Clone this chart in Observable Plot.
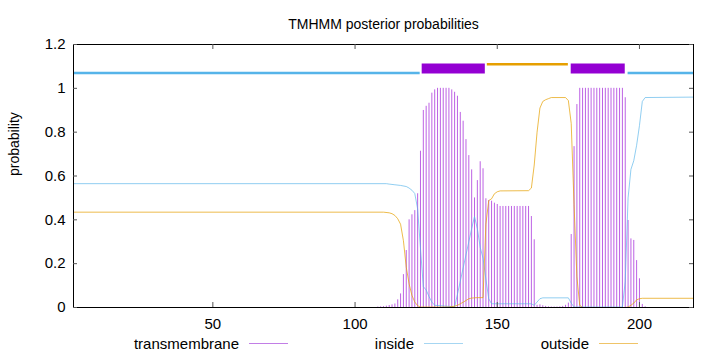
<!DOCTYPE html>
<html>
<head>
<meta charset="utf-8">
<script src="https://cdn.jsdelivr.net/npm/d3@7"></script>
<script src="https://cdn.jsdelivr.net/npm/@observablehq/plot@0.6"></script>
<style>
  html, body { margin: 0; padding: 0; background: #fff; }
  body { font-family: "Liberation Sans", Arial, Helvetica, sans-serif; }
  #wrap { position: relative; width: 720px; height: 352px; overflow: hidden; }
  #legend { position: absolute; left: 0; top: 334px; width: 720px; height: 18px; font-size: 15px; color: #000; }
  .item { position: absolute; top: 0; height: 18px; display: flex; align-items: center; justify-content: flex-end; width: 200px; }
  .item .swatch { display: block; width: 39px; height: 1px; margin-left: 10px; flex: none; }
</style>
</head>
<body>
<div id="wrap"><div id="legend"></div></div>
<script>
// ---- text ----
const title = "TMHMM posterior probabilities";
const yLabel = "probability";
const seriesNames = ["transmembrane", "inside", "outside"];

// ---- axes ----
const seqLength = 219;
const xTicks = [50, 100, 150, 200];
const yTicks = [0, 0.2, 0.4, 0.6, 0.8, 1, 1.2];

// ---- transmembrane posterior (impulses), residues 108..202 ----
const tmFirstResidue = 108;
const tmProb = [
  0.002, 0.003, 0.004, 0.006, 0.009, 0.012, 0.016, 0.035, 0.062, 0.15,
  0.26, 0.40, 0.423, 0.442, 0.519, 0.713, 0.899, 0.918, 0.932, 0.978,
  0.993, 1, 1, 1, 1, 1, 0.993, 0.982, 0.964, 0.89,
  0.85, 0.766, 0.693, 0.628, 0.50, 0.579, 0.665, 0.633, 0.496, 0.488,
  0.485, 0.476, 0.47, 0.461, 0.461, 0.461, 0.461, 0.461, 0.461, 0.461,
  0.461, 0.461, 0.461, 0.461, 0.415, 0.309, 0.01, 0.012, 0.008, 0.005,
  0.003, 0.002, 0.002, 0.002, 0.003, 0.005, 0.01, 0.02, 0.333, 0.734,
  0.926, 1, 1, 1, 1, 1, 1, 1, 1, 1,
  1, 1, 1, 1, 1, 1, 1, 0.957, 0.397, 0.313,
  0.306, 0.214, 0.131, 0.014, 0.003
];

// ---- inside posterior (line) ----
const insideResidue = [1, 111, 112, 114, 116, 118, 119, 120, 121, 122, 123, 124, 125, 126, 127, 128, 135,
  136, 137, 138, 139, 140, 141, 142, 143, 144, 145, 146, 147, 148, 162, 163, 164, 165, 166, 175, 176, 177,
  194, 195, 196, 197, 198, 199, 200, 201, 202, 219];
const insideProb = [0.565, 0.565, 0.563, 0.56, 0.557, 0.552, 0.545, 0.535, 0.52, 0.45, 0.27, 0.095, 0.08, 0.05, 0.025, 0.01, 0.003,
  0.06, 0.12, 0.18, 0.24, 0.30, 0.36, 0.415, 0.36, 0.275, 0.225, 0.13, 0.04, 0.017, 0.017, 0.01, 0.025, 0.04, 0.044, 0.044, 0.02, 0.002,
  0.002, 0.12, 0.50, 0.63, 0.67, 0.74, 0.83, 0.94, 0.958, 0.96];

// ---- outside posterior (line) ----
const outsideResidue = [1, 110, 112, 113, 114, 115, 116, 117, 118, 119, 120, 121, 122, 123, 133, 135, 136, 137, 138,
  139, 140, 141, 142, 143, 144, 145, 146, 147, 148, 149, 150, 151, 161, 162, 163, 164, 165, 166, 167, 168, 169,
  174, 175, 176, 177, 178, 179, 180, 195, 196, 197, 198, 199, 200, 201, 219];
const outsideProb = [0.435, 0.435, 0.432, 0.428, 0.42, 0.405, 0.38, 0.305, 0.184, 0.108, 0.055, 0.025, 0.008, 0.002, 0.002, 0.006, 0.01, 0.017, 0.024,
  0.032, 0.04, 0.043, 0.044, 0.045, 0.045, 0.045, 0.38, 0.488, 0.496, 0.519, 0.528, 0.532, 0.533, 0.545, 0.65, 0.80, 0.91, 0.94, 0.948, 0.953, 0.958,
  0.958, 0.944, 0.84, 0.47, 0.14, 0.01, 0, 0, 0.002, 0.01, 0.02, 0.035, 0.04, 0.042, 0.042];

// ---- predicted topology (bars on top) ----
const segType  = ["inside", "TMhelix", "outside", "TMhelix", "inside"];
const segStart = [1, 123.6, 146.5, 176, 196];
const segEnd   = [122.9, 145.8, 175, 195, 219];
const segLevel = {inside: 1.07, outside: 1.11, TMhelix: 1.09};

// ---- styling ----
const colors = {transmembrane: "#9400D3", inside: "#56B4E9", outside: "#E69F00"};
const swatchColors = {transmembrane: "#c27ee6", inside: "#a6d6f2", outside: "#efc468"};
const W = 720, H = 352, mL = 73, mR = 27, mT = 44, mB = 45;
const frameW = W - mL - mR, frameH = H - mT - mB;

// ---- build tables ----
const tm = tmProb.map((p, i) => ({pos: tmFirstResidue + i, p}));
const inside = insideResidue.map((pos, i) => ({pos, p: insideProb[i]}));
const outside = outsideResidue.map((pos, i) => ({pos, p: outsideProb[i]}));
const segs = segType.map((type, i) => ({type, start: segStart[i], end: segEnd[i], level: segLevel[type]}));

const plot = Plot.plot({
  width: W, height: H,
  marginLeft: mL, marginRight: mR, marginTop: mT, marginBottom: mB,
  style: {fontFamily: '"Liberation Sans", Arial, Helvetica, sans-serif', fontSize: "15px", color: "#000", background: "#fff", overflow: "visible"},
  x: {domain: [1, seqLength]},
  y: {domain: [0, 1.2]},
  marks: [
    // impulses
    Plot.ruleX(tm, {x: "pos", y1: 0, y2: "p", stroke: colors.transmembrane, strokeWidth: 1, strokeOpacity: 0.62}),
    // lines
    Plot.line(inside, {x: "pos", y: "p", stroke: colors.inside, strokeWidth: 1, strokeOpacity: 0.65}),
    Plot.line(outside, {x: "pos", y: "p", stroke: colors.outside, strokeWidth: 1, strokeOpacity: 0.7}),
    // topology bars
    Plot.ruleY(segs.filter(d => d.type === "inside"), {x1: "start", x2: "end", y: "level", stroke: colors.inside, strokeWidth: 2.5}),
    Plot.ruleY(segs.filter(d => d.type === "outside"), {x1: "start", x2: "end", y: "level", stroke: colors.outside, strokeWidth: 2.5}),
    Plot.ruleY(segs.filter(d => d.type === "TMhelix"), {x1: "start", x2: "end", y: "level", stroke: colors.transmembrane, strokeWidth: 10}),
    // frame & inward ticks
    Plot.frame({stroke: "#000", strokeWidth: 1}),
    Plot.ruleX(xTicks, {x: d => d, insetTop: frameH - 5, stroke: "#555"}),
    Plot.ruleX(xTicks, {x: d => d, insetBottom: frameH - 5, stroke: "#555"}),
    Plot.ruleY(yTicks, {y: d => d, insetRight: frameW - 4, stroke: "#555"}),
    Plot.ruleY(yTicks, {y: d => d, insetLeft: frameW - 4, stroke: "#555"}),
    // axes labels
    Plot.axisX(xTicks, {tickSize: 0, tickPadding: 11, label: null, fontSize: 15}),
    Plot.axisY(yTicks, {tickSize: 0, tickPadding: 8, label: null, fontSize: 15, tickFormat: d => String(d)}),
    Plot.text([yLabel], {frameAnchor: "left", text: d => d, rotate: -90, dx: -59, fontSize: 14}),
    Plot.text([title], {frameAnchor: "top", text: d => d, dy: -25, fontSize: 14})
  ]
});
document.getElementById("wrap").prepend(plot);

// legend (gnuplot-style key under the plot)
const legend = document.getElementById("legend");
seriesNames.forEach((name, i) => {
  const item = document.createElement("div");
  item.className = "item";
  item.style.left = (288 + 175 * i - 200) + "px";
  const label = document.createElement("span");
  label.textContent = name;
  const sw = document.createElement("div");
  sw.className = "swatch";
  sw.style.backgroundColor = swatchColors[name];
  item.append(label, sw);
  legend.append(item);
});
</script>
</body>
</html>
